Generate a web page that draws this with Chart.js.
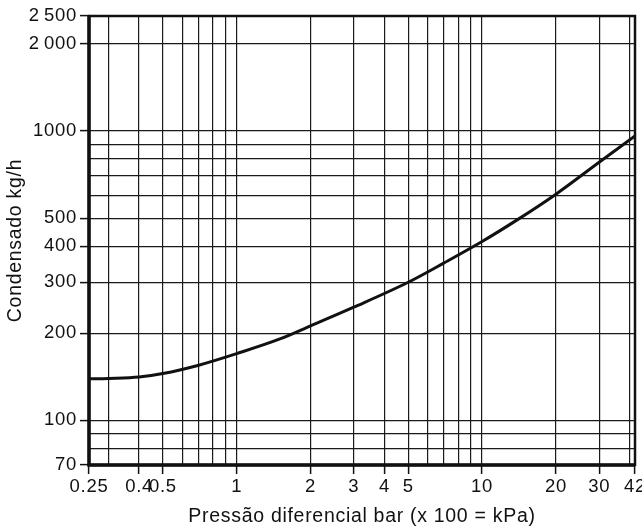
<!DOCTYPE html>
<html>
<head>
<meta charset="utf-8">
<script src="https://cdn.jsdelivr.net/npm/chart.js@4/dist/chart.umd.min.js"></script>
<style>
  html, body { margin: 0; padding: 0; background: #fff; }
  #wrap { width: 642px; height: 532px; }
</style>
</head>
<body>
<div id="wrap"><canvas id="grafico"></canvas></div>
<script>
/* dados */
const pressao = [0.25, 0.3, 0.4, 0.5, 0.7, 1, 1.5, 2, 3, 5, 7, 10, 14, 20, 30, 42];
const condensado = [139, 139.5, 141, 145, 155, 170, 191, 212, 246, 300, 350, 415, 495, 605, 780, 962];

/* grade e rótulos */
const xGrade = [0.25, 0.3, 0.4, 0.5, 0.6, 0.7, 0.8, 0.9, 1, 2, 3, 4, 5, 6, 7, 8, 9, 10, 20, 30, 40, 42];
const xRotulos = [0.25, 0.4, 0.5, 1, 2, 3, 4, 5, 10, 20, 30, 42];
const yGrade = [70, 80, 90, 100, 200, 300, 400, 500, 600, 700, 800, 900, 1000, 2000, 2500];
const yRotulos = [70, 100, 200, 300, 400, 500, 1000, 2000, 2500];

const fonte = "'Liberation Sans', Arial, sans-serif";

const fmt = v => v >= 2000 ? String(v).replace(/(\d)(\d{3})$/, '$1\u2009$2') : String(v);

/* espaçamento de letras como no original */
const espaco = {
  id: 'espaco',
  beforeUpdate(chart) { chart.ctx.letterSpacing = '0.7px'; },
  beforeDraw(chart) { chart.ctx.letterSpacing = '0.7px'; }
};

/* moldura do gráfico */
const moldura = {
  id: 'moldura',
  afterDatasetsDraw(chart) {
    const a = chart.chartArea, ctx = chart.ctx;
    ctx.save();
    ctx.strokeStyle = '#111';
    ctx.lineWidth = 2.5;
    ctx.strokeRect(a.left, a.top, a.right - a.left, a.bottom - a.top);
    ctx.lineWidth = 3.5;
    ctx.beginPath();
    ctx.moveTo(a.left, a.top - 1);
    ctx.lineTo(a.left, a.bottom);
    ctx.lineTo(a.right, a.bottom);
    ctx.stroke();
    ctx.restore();
  }
};

new Chart(document.getElementById('grafico'), {
  type: 'scatter',
  data: {
    datasets: [{
      data: pressao.map((p, i) => ({ x: p, y: condensado[i] })),
      showLine: true,
      borderColor: '#111',
      borderWidth: 3,
      pointRadius: 0,
      cubicInterpolationMode: 'monotone'
    }]
  },
  options: {
    responsive: true,
    maintainAspectRatio: false,
    animation: false,
    layout: { padding: { top: 16, right: 7, left: 0, bottom: 0 } },
    plugins: { legend: { display: false }, tooltip: { enabled: false } },
    scales: {
      x: {
        type: 'logarithmic',
        min: 0.25, max: 42,
        afterBuildTicks: s => { s.ticks = xGrade.map(v => ({ value: v })); },
        afterFit: s => { s.height = 67; s.paddingLeft = 0; s.paddingRight = 0; },
        ticks: {
          autoSkip: false, maxRotation: 0, minRotation: 0, padding: 2,
          color: '#111', font: { family: fonte, size: 18.5 },
          callback: v => xRotulos.includes(v) ? String(v) : ''
        },
        grid: {
          color: '#1a1a1a', lineWidth: 1.2, tickLength: 9,
          tickColor: c => (c.tick && xRotulos.includes(c.tick.value)) ? '#111' : 'rgba(0,0,0,0)',
          tickWidth: 1.5
        },
        border: { display: false },
        title: {
          display: true, text: 'Pressão diferencial bar (x 100 = kPa)',
          color: '#111', font: { family: fonte, size: 19.5 }, padding: { top: 1 }
        }
      },
      y: {
        type: 'logarithmic',
        min: 70, max: 2500,
        afterBuildTicks: s => { s.ticks = yGrade.map(v => ({ value: v })); },
        afterFit: s => { s.width = 89; },
        ticks: {
          autoSkip: false, padding: 3,
          color: '#111', font: { family: fonte, size: 18.5 },
          callback: v => yRotulos.includes(v) ? fmt(v) : ''
        },
        grid: {
          color: '#1a1a1a', lineWidth: 1.2, tickLength: 9,
          tickColor: c => (c.tick && yRotulos.includes(c.tick.value)) ? '#111' : 'rgba(0,0,0,0)',
          tickWidth: 1.5
        },
        border: { display: false },
        title: {
          display: true, text: 'Condensado kg/h',
          color: '#111', font: { family: fonte, size: 19.5 }, padding: { bottom: 2 }
        }
      }
    }
  },
  plugins: [espaco, moldura]
});
</script>
</body>
</html>
